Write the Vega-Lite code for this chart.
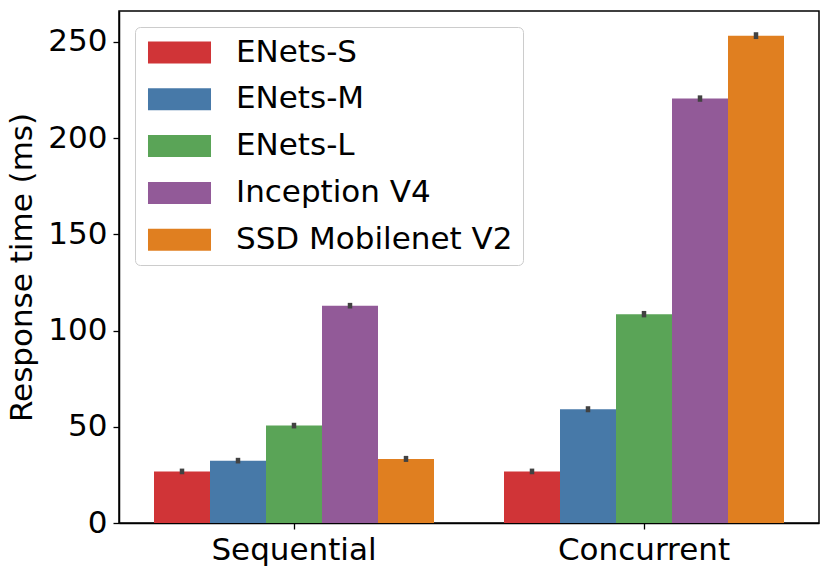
{
  "$schema": "https://vega.github.io/schema/vega-lite/v6.json",
  "width": 700,
  "height": 512,
  "autosize": "none",
  "padding": {"left": 119, "top": 11, "right": 12, "bottom": 53},
  "config": {
    "font": "DejaVu Sans",
    "view": {"stroke": "black", "strokeWidth": 1.5},
    "axis": {
      "domainColor": "black", "domainWidth": 1.5,
      "tickColor": "black", "tickWidth": 1.3, "tickSize": 6,
      "labelFontSize": 31, "labelColor": "black", "labelPadding": 6,
      "titleFontSize": 31, "titleFontWeight": "normal", "titleColor": "black",
      "grid": false
    }
  },
  "data": {
    "values": [
      {"mode": "Sequential", "model": "ENets-S", "time": 26.8, "lo": 26.5, "hi": 27.1},
      {"mode": "Sequential", "model": "ENets-M", "time": 32.4, "lo": 32.1, "hi": 32.7},
      {"mode": "Sequential", "model": "ENets-L", "time": 50.6, "lo": 50.3, "hi": 50.9},
      {"mode": "Sequential", "model": "Inception V4", "time": 112.9, "lo": 112.6, "hi": 113.2},
      {"mode": "Sequential", "model": "SSD Mobilenet V2", "time": 33.3, "lo": 32.9, "hi": 33.7},
      {"mode": "Concurrent", "model": "ENets-S", "time": 26.8, "lo": 26.5, "hi": 27.1},
      {"mode": "Concurrent", "model": "ENets-M", "time": 59.1, "lo": 58.7, "hi": 59.5},
      {"mode": "Concurrent", "model": "ENets-L", "time": 108.5, "lo": 108.0, "hi": 109.0},
      {"mode": "Concurrent", "model": "Inception V4", "time": 220.5, "lo": 220.0, "hi": 221.0},
      {"mode": "Concurrent", "model": "SSD Mobilenet V2", "time": 253.2, "lo": 252.6, "hi": 253.8}
    ]
  },
  "encoding": {
    "x": {
      "field": "mode", "type": "nominal", "sort": ["Sequential", "Concurrent"],
      "scale": {"paddingInner": 0.2, "paddingOuter": 0.1},
      "axis": {"title": null, "labelAngle": 0}
    },
    "xOffset": {
      "field": "model", "type": "nominal",
      "sort": ["ENets-S", "ENets-M", "ENets-L", "Inception V4", "SSD Mobilenet V2"],
      "scale": {"paddingInner": 0, "paddingOuter": 0}
    }
  },
  "layer": [
    {
      "mark": {"type": "bar"},
      "encoding": {
        "y": {
          "field": "time", "type": "quantitative",
          "scale": {"domain": [0, 266], "nice": false},
          "axis": {"values": [0, 50, 100, 150, 200, 250], "title": "Response time (ms)", "titlePadding": 9}
        },
        "color": {
          "field": "model", "type": "nominal",
          "scale": {
            "domain": ["ENets-S", "ENets-M", "ENets-L", "Inception V4", "SSD Mobilenet V2"],
            "range": ["#d03437", "#4779a8", "#5aa457", "#925a98", "#e07f20"]
          },
          "legend": {
            "title": null, "orient": "top-left", "offset": 16, "padding": 10,
            "strokeColor": "#cccccc", "cornerRadius": 5, "fillColor": "white",
            "labelFontSize": 31, "labelColor": "black", "labelLimit": 400,
            "symbolType": "M-2.864,-1H2.864V1H-2.864Z", "symbolSize": 484,
            "symbolStrokeWidth": 0, "symbolOpacity": 1,
            "rowPadding": 14.8, "symbolOffset": 19, "labelOffset": 41
          }
        }
      }
    },
    {
      "mark": {"type": "rule", "color": "#424242", "strokeWidth": 4.5, "strokeCap": "square"},
      "encoding": {
        "y": {"field": "lo", "type": "quantitative"},
        "y2": {"field": "hi"}
      }
    }
  ]
}
